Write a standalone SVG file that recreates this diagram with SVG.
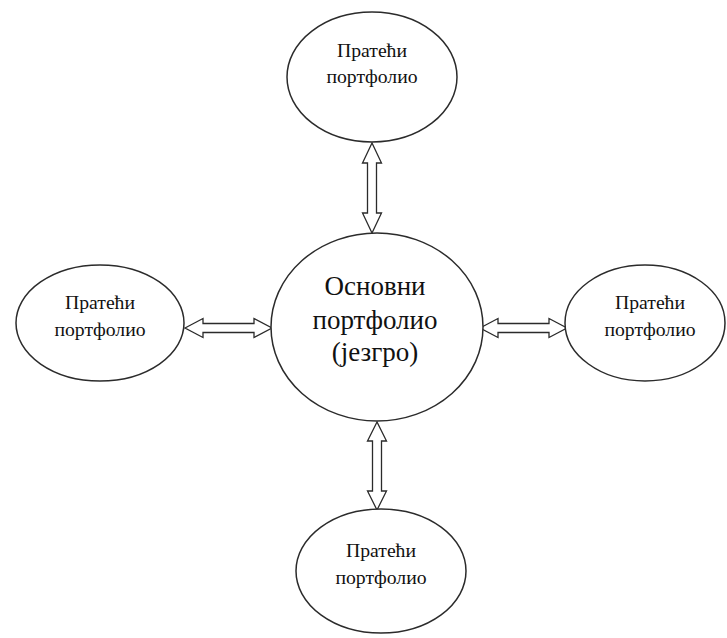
<svg xmlns="http://www.w3.org/2000/svg" width="727" height="638" viewBox="0 0 727 638">
  <style>
    .node ellipse { fill: #ffffff; stroke: #2b2b2b; stroke-width: 1.5; }
    .lbl { font-family: "Liberation Serif", "Times New Roman", serif; fill: #111111; text-anchor: middle; }
    .small { font-size: 19.7px; }
    .big { font-size: 27px; }
    .arrow { fill: #ffffff; stroke: #2b2b2b; stroke-width: 1.3; stroke-linejoin: miter; }
  </style>
  <rect width="727" height="638" fill="#ffffff"/>

  <!-- double-headed hollow arrows between the core and each satellite -->
  <g id="connectors">
    <polygon class="arrow" points="372,143 362.5,163 367.5,163 367.5,213 362.5,213 372,233 381.5,213 376.5,213 376.5,163 381.5,163"/>
    <polygon class="arrow" points="377,422 367.5,441 372.5,441 372.5,491 367.5,491 377,510 386.5,491 381.5,491 381.5,441 386.5,441"/>
    <polygon class="arrow" points="185,328 203,318.5 203,323.5 254,323.5 254,318.5 272,328 254,337.5 254,332.5 203,332.5 203,337.5"/>
    <polygon class="arrow" points="480,328 498,318.5 498,323.5 549,323.5 549,318.5 567,328 549,337.5 549,332.5 498,332.5 498,337.5"/>
  </g>

  <g id="core" class="node">
    <ellipse cx="377" cy="327" rx="106" ry="94"/>
    <text class="lbl big" x="375" y="295">Основни</text>
    <text class="lbl big" x="375" y="329">портфолио</text>
    <text class="lbl big" x="375" y="361">(језгро)</text>
  </g>

  <g id="top" class="node">
    <ellipse cx="372" cy="77" rx="85" ry="65"/>
    <text class="lbl small" x="372" y="57">Пратећи</text>
    <text class="lbl small" x="372" y="83">портфолио</text>
  </g>

  <g id="left" class="node">
    <ellipse cx="100" cy="323" rx="84" ry="58"/>
    <text class="lbl small" x="100" y="309">Пратећи</text>
    <text class="lbl small" x="100" y="336">портфолио</text>
  </g>

  <g id="right" class="node">
    <ellipse cx="645" cy="323" rx="80" ry="58"/>
    <text class="lbl small" x="650" y="309">Пратећи</text>
    <text class="lbl small" x="650" y="336">портфолио</text>
  </g>

  <g id="bottom" class="node">
    <ellipse cx="381" cy="571" rx="85" ry="62"/>
    <text class="lbl small" x="381" y="557">Пратећи</text>
    <text class="lbl small" x="381" y="584">портфолио</text>
  </g>
</svg>
